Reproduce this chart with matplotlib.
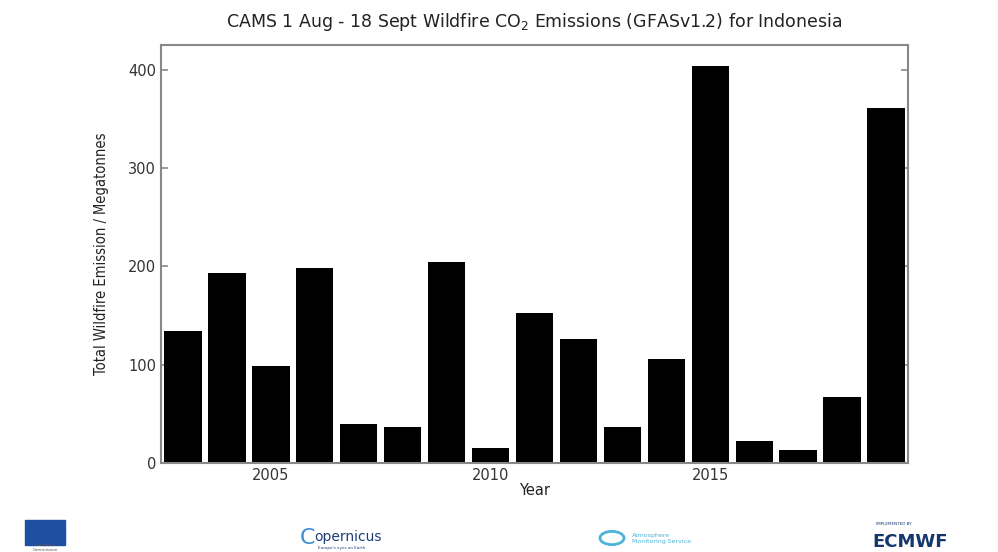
import matplotlib.pyplot as plt
from matplotlib.patches import Rectangle, Circle

# Данные: выбросы CO2 от пожаров, 1 авг - 18 сен, Индонезия
years = list(range(2003, 2020))
emissions = [134, 193, 99, 198, 40, 37, 204, 15, 153, 126, 37, 106, 404, 22, 13, 67, 361]
year_ticks = [2005, 2010, 2015]
emission_ticks = [0, 100, 200, 300, 400]

fig = plt.figure(figsize=(9.98, 5.52), dpi=100)
ax = fig.add_axes([161 / 998, 1 - 463 / 552, (908 - 161) / 998, (463 - 45) / 552])

ax.bar(years, emissions, width=0.85, color='black')
ax.set_xlim(2002.5, 2019.5)
ax.set_ylim(0, 425)
ax.set_xticks(year_ticks)
ax.set_yticks(emission_ticks)
ax.set_axisbelow(True)

for s in ax.spines.values():
    s.set_color('#888888')
    s.set_linewidth(1.5)
ax.tick_params(direction='in', length=5, color='#888888', width=1.2,
               right=True, top=False, labelsize=10.5, labelcolor='#333333')

ax.set_xlabel('Year', fontsize=10.5, labelpad=0, color='#222222')
ax.set_ylabel('Total Wildfire Emission / Megatonnes', fontsize=10.5,
              fontstretch='condensed', labelpad=14, color='#222222')
ax.set_title('CAMS 1 Aug - 18 Sept Wildfire CO$_2$ Emissions (GFASv1.2) for Indonesia',
             fontsize=12.5, pad=13, color='#222222')

# Логотипы внизу (упрощённо)
fig.patches.append(Rectangle((25 / 998, 1 - 545 / 552), 40 / 998, 25 / 552,
                             transform=fig.transFigure, color='#1f4fa0'))
fig.text(45 / 998, 1 - 551 / 552, 'European\nCommission', color='#555555', fontsize=3,
         ha='center')
fig.text(300 / 998, 1 - 544 / 552, 'C', color='#3a8fd0', fontsize=16)
fig.text(314 / 998, 1 - 541 / 552, 'opernicus', color='#1d3f7a', fontsize=10)
fig.text(318 / 998, 1 - 549 / 552, 'Europe\'s eyes on Earth', color='#1d3f7a', fontsize=3)
fig.patches.append(Circle((612 / 998, 1 - 538 / 552), 0.012, transform=fig.transFigure,
                          fill=False, ec='#4bb4d8', lw=2))
fig.text(632 / 998, 1 - 543 / 552, 'Atmosphere\nMonitoring Service', color='#4bb4d8',
         fontsize=4.5, linespacing=1.2)
fig.text(876 / 998, 1 - 525 / 552, 'IMPLEMENTED BY', color='#14386e', fontsize=3)
fig.text(872 / 998, 1 - 547 / 552, 'ECMWF', color='#14386e', fontsize=13, fontweight='bold')

plt.savefig('out.png', dpi=100)
plt.close()
